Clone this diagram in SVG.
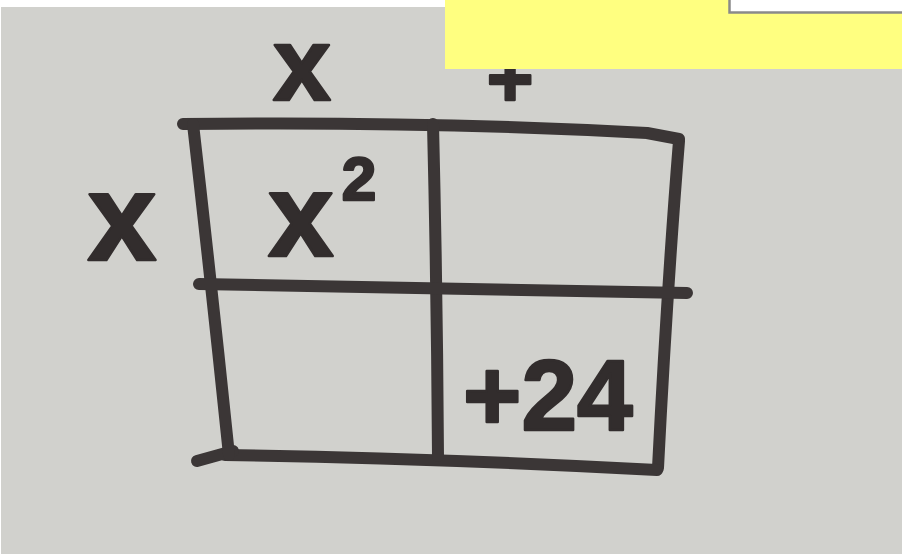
<svg xmlns="http://www.w3.org/2000/svg" width="902" height="554" viewBox="0 0 902 554">
  <style>
    .ink { fill: none; stroke: #3b3636; stroke-width: 12; stroke-linecap: round; stroke-linejoin: round; }
    .hand { font-family: "Liberation Sans", Arial, sans-serif; font-weight: bold; fill: #322d2d; stroke: #322d2d; stroke-width: 2.5; stroke-linejoin: round; }
  </style>
  <rect x="0" y="0" width="902" height="554" fill="#ffffff"/>
  <g id="photo">
    <rect x="1" y="7" width="901" height="547" fill="#d1d1cd"/>
    <g id="grid">
      <path class="ink" d="M183,124 Q430,121 647,133 L679,139"/>
      <path class="ink" d="M679,141 Q667,290 658,468"/>
      <path class="ink" d="M225,455 Q430,458 657,470"/>
      <path class="ink" d="M197,461 L233,451"/>
      <path class="ink" d="M193,124 Q212,290 229,455"/>
      <path class="ink" d="M433,124 Q437,290 438,456"/>
      <path class="ink" d="M199,284 Q430,288 687,293"/>
    </g>
    <g id="labels">
      <text class="hand" x="302" y="100" font-size="104" text-anchor="middle">x</text>
      <text class="hand" x="122" y="260" font-size="124" text-anchor="middle">x</text>
      <text class="hand" x="510" y="106" font-size="80" text-anchor="middle">+</text>
      <text class="hand" x="268" y="256" font-size="118">x<tspan font-size="62" dx="8" dy="-56">2</tspan></text>
      <text class="hand" x="463" y="430" font-size="100">+24</text>
    </g>
  </g>
  <g id="note">
    <rect x="445" y="0" width="457" height="69" fill="#ffff80"/>
    <rect x="729.5" y="-2" width="175" height="14.5" fill="#ffffff" stroke="#8a8a8a" stroke-width="2.5"/>
  </g>
</svg>
